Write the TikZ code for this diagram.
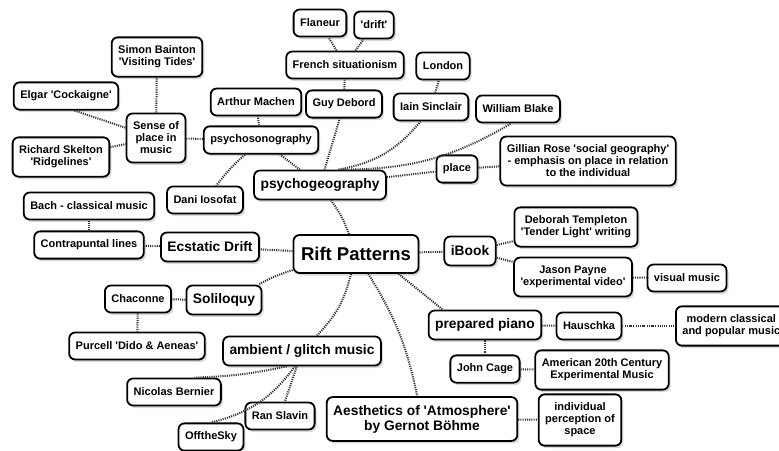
\documentclass[tikz,border=0pt]{standalone}
\usepackage{fontspec}
\setmainfont{Liberation Sans}[Ligatures=TeXOff]
\usetikzlibrary{shadows}

\begin{document}
\begin{tikzpicture}[x=1pt,y=-1pt,
  box/.style={draw=black,line width=1.8pt,rounded corners=6pt,fill=white,align=center,
    inner xsep=6.5pt,inner ysep=8.5pt,minimum height=27pt,
    drop shadow={shadow xshift=2pt,shadow yshift=-2.5pt,opacity=.3},
    font=\bfseries\fontsize{11}{12}\selectfont},
  topic/.style={box,inner ysep=8pt,minimum height=29pt,font=\bfseries\fontsize{13.8}{15}\selectfont},
  hub/.style={box,inner xsep=7.5pt,inner ysep=10pt,minimum height=38pt,font=\bfseries\fontsize{18.5}{20}\selectfont},
  link/.style={draw=black!80,line width=2pt,dash pattern=on 1.1pt off 1.1pt}]
\useasboundingbox (0,0) rectangle (779,450);
\clip (0,0) rectangle (779,450);
\node[hub] (rift) at (356,254) {Rift Patterns};
\node[topic] (psygeo) at (320,185) {psychogeography};
\node[topic] (ecstatic) at (210,247) {Ecstatic Drift};
\node[topic] (soliloquy) at (224,300) {Soliloquy};
\node[topic] (ambient) at (302,351) {ambient / glitch music};
\node[topic] (aesth) at (422,419) {Aesthetics of 'Atmosphere'\\by Gernot Böhme};
\node[topic] (piano) at (485,325) {prepared piano};
\node[topic] (ibook) at (470,251) {iBook};
\node[box] (simon) at (157,57) {Simon Bainton\\'Visiting Tides'};
\node[box] (elgar) at (66,96) {Elgar 'Cockaigne'};
\node[box] (sense) at (156,138) {Sense of\\place in\\music};
\node[box] (skelton) at (61,157) {Richard Skelton\\'Ridgelines'};
\node[box] (machen) at (256,102) {Arthur Machen};
\node[box] (psyson) at (261,140) {psychosonography};
\node[box] (dani) at (205,200) {Dani Iosofat};
\node[box] (flaneur) at (320,23) {Flaneur};
\node[box] (drift) at (374,25) {'drift'};
\node[box] (french) at (345,65) {French situationism};
\node[box] (debord) at (344,104) {Guy Debord};
\node[box] (london) at (443,66) {London};
\node[box] (sinclair) at (431,107) {Iain Sinclair};
\node[box] (blake) at (518,109) {William Blake};
\node[box] (place) at (457,169) {place};
\node[box] (rose) at (588,161) {Gillian Rose 'social geography'\\- emphasis on place in relation\\to the individual};
\node[box] (bach) at (89,206) {Bach - classical music};
\node[box] (contra) at (89,245) {Contrapuntal lines};
\node[box] (chaconne) at (138,299) {Chaconne};
\node[box] (purcell) at (137,346) {Purcell 'Dido \& Aeneas'};
\node[box] (bernier) at (174,392) {Nicolas Bernier};
\node[box] (slavin) at (280,416) {Ran Slavin};
\node[box] (offsky) at (211,437) {OfftheSky};
\node[box] (templeton) at (576,227) {Deborah Templeton\\'Tender Light' writing};
\node[box] (payne) at (573,277) {Jason Payne\\'experimental video'};
\node[box] (visual) at (687,278) {visual music};
\node[box] (hauschka) at (589,326) {Hauschka};
\node[box,anchor=west] (modern) at (675,326) {modern classical\\and popular music};
\node[box] (cage) at (485,369) {John Cage};
\node[box] (american) at (602,370) {American 20th Century\\Experimental Music};
\node[box] (indiv) at (580,420) {individual\\perception of\\space};
\foreach \a/\b/\bd in {rift/psygeo/-8,rift/ecstatic/0,rift/soliloquy/-5,rift/ambient/15,
  rift/aesth/10,rift.-25/piano.160/0,rift/ibook/0,
  psygeo/debord/0,psygeo.40/sinclair/-20,psygeo.35/blake.-115/-15,psygeo/place/0,psygeo/psyson/0,
  psyson/dani/-5,psyson/machen/0,psyson/sense/0,sense/simon/0,elgar.-60/sense/0,skelton/sense/0,
  debord/french/0,french/flaneur/0,french/drift/0,sinclair/london/0,place/rose/0,
  ecstatic/contra/0,contra/bach/0,soliloquy/chaconne/0,chaconne/purcell/0,
  ambient.-135/bernier.35/5,ambient/slavin/0,ambient.-115/offsky.north/20,
  ibook/templeton/0,ibook/payne/0,payne/visual/0,piano/hauschka/0,hauschka/modern/0,
  piano/cage/0,cage/american/0,aesth/indiv/0}{
\draw[link] (\a) to[bend left=\bd] (\b);}
\end{tikzpicture}
\end{document}
